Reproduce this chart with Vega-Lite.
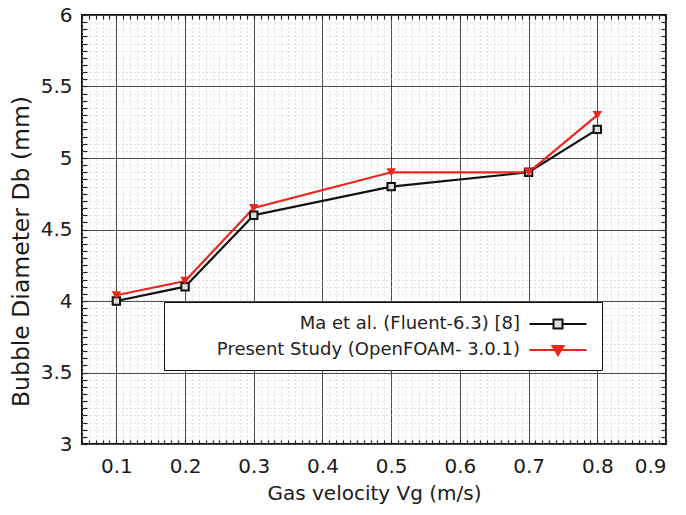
{
  "$schema": "https://vega.github.io/schema/vega-lite/v6.json",
  "width": 584,
  "height": 429,
  "autosize": "none",
  "padding": {"left": 82, "top": 15, "right": 20, "bottom": 71},
  "background": "white",
  "config": {
    "view": {"stroke": "#111111", "strokeWidth": 2},
    "font": "DejaVu Sans",
    "axis": {"labelFont": "DejaVu Sans", "titleFont": "DejaVu Sans", "labelColor": "#1a1a1a", "titleColor": "#1a1a1a", "titleFontWeight": "normal"}
  },
  "data": {
    "values": [
      {"v": 0.1, "d": 4.0, "s": "Ma et al. (Fluent-6.3) [8]"},
      {"v": 0.2, "d": 4.1, "s": "Ma et al. (Fluent-6.3) [8]"},
      {"v": 0.3, "d": 4.6, "s": "Ma et al. (Fluent-6.3) [8]"},
      {"v": 0.5, "d": 4.8, "s": "Ma et al. (Fluent-6.3) [8]"},
      {"v": 0.7, "d": 4.9, "s": "Ma et al. (Fluent-6.3) [8]"},
      {"v": 0.8, "d": 5.2, "s": "Ma et al. (Fluent-6.3) [8]"},
      {"v": 0.1, "d": 4.04, "s": "Present Study (OpenFOAM- 3.0.1)"},
      {"v": 0.2, "d": 4.14, "s": "Present Study (OpenFOAM- 3.0.1)"},
      {"v": 0.3, "d": 4.65, "s": "Present Study (OpenFOAM- 3.0.1)"},
      {"v": 0.5, "d": 4.9, "s": "Present Study (OpenFOAM- 3.0.1)"},
      {"v": 0.7, "d": 4.9, "s": "Present Study (OpenFOAM- 3.0.1)"},
      {"v": 0.8, "d": 5.3, "s": "Present Study (OpenFOAM- 3.0.1)"}
    ]
  },
  "layer": [
    {
      "mark": {"type": "line", "strokeWidth": 2.2},
      "encoding": {
        "x": {"field": "v", "type": "quantitative", "scale": {"domain": [0.05, 0.9], "nice": false, "zero": false},
          "axis": {"orient": "bottom", "tickCount": 85, "labels": false, "title": null, "domain": false, "grid": true, "gridColor": "#c4c4c4", "gridDash": [1, 3], "gridWidth": 1, "ticks": true, "tickSize": -4, "tickColor": "#222", "tickWidth": 1.2}},
        "y": {"field": "d", "type": "quantitative", "scale": {"domain": [3, 6], "nice": false, "zero": false},
          "axis": {"orient": "left", "tickCount": 60, "labels": false, "title": null, "domain": false, "grid": true, "gridColor": "#c4c4c4", "gridDash": [1, 3], "gridWidth": 1, "ticks": true, "tickSize": -5, "tickColor": "#222", "tickWidth": 1.2}},
        "color": {"field": "s", "type": "nominal", "scale": {"domain": ["Ma et al. (Fluent-6.3) [8]", "Present Study (OpenFOAM- 3.0.1)"], "range": ["#111111", "#e8281e"]},
          "legend": {"title": null, "orient": "none", "legendX": 82, "legendY": 287, "direction": "vertical",
            "symbolSize": 400, "symbolStrokeWidth": 2, "symbolOpacity": 1,
            "labelAlign": "right", "labelOffset": -49, "symbolOffset": 372,
            "labelFont": "DejaVu Sans", "labelFontSize": 18, "labelColor": "#222222", "labelLimit": 400,
            "padding": 11, "rowPadding": 6, "strokeColor": "#111111", "fillColor": "white",
            "encode": {
              "symbols": {"update": {
                "stroke": {"signal": "datum.value == 'Ma et al. (Fluent-6.3) [8]' ? '#111111' : '#e8281e'"},
                "fill": {"signal": "datum.value == 'Ma et al. (Fluent-6.3) [8]' ? '#dddddd' : '#e8281e'"},
                "opacity": {"value": 1}}}
            }}}
      }
    },
    {
      "transform": [{"filter": "datum.s == 'Ma et al. (Fluent-6.3) [8]'"}],
      "mark": {"type": "point", "shape": "square", "size": 55, "filled": false, "fill": "#dddddd", "stroke": "#111111", "strokeWidth": 2, "opacity": 1},
      "encoding": {
        "x": {"field": "v", "type": "quantitative", "scale": {"domain": [0.05, 0.9], "nice": false, "zero": false},
          "axis": {"orient": "bottom", "values": [0.1, 0.2, 0.3, 0.4, 0.5, 0.6, 0.7, 0.8, 0.9], "format": "~g", "labelFontSize": 20, "labelPadding": 12, "ticks": false, "domain": false, "grid": true, "gridColor": "#4a4a4a", "gridWidth": 1,
            "title": "Gas velocity Vg (m/s)", "titleFontSize": 20, "titlePadding": 7}},
        "y": {"field": "d", "type": "quantitative", "scale": {"domain": [3, 6], "nice": false, "zero": false},
          "axis": {"orient": "left", "values": [3, 3.5, 4, 4.5, 5, 5.5, 6], "format": "~g", "labelFontSize": 20, "labelPadding": 10, "ticks": false, "domain": false, "grid": true, "gridColor": "#4a4a4a", "gridWidth": 1,
            "title": "Bubble Diameter Db (mm)", "titleFontSize": 23.5, "titlePadding": 7, "titleY": 236}}
      }
    },
    {
      "transform": [{"filter": "datum.s == 'Present Study (OpenFOAM- 3.0.1)'"}],
      "mark": {"type": "point", "shape": "triangle-down", "size": 90, "filled": true, "color": "#e8281e", "opacity": 1},
      "encoding": {
        "x": {"field": "v", "type": "quantitative", "scale": {"domain": [0.05, 0.9], "nice": false, "zero": false},
          "axis": {"orient": "top", "tickCount": 85, "labels": false, "title": null, "domain": false, "grid": false, "ticks": true, "tickSize": -4, "tickColor": "#222", "tickWidth": 1.2}},
        "y": {"field": "d", "type": "quantitative", "scale": {"domain": [3, 6], "nice": false, "zero": false},
          "axis": {"orient": "right", "tickCount": 60, "labels": false, "title": null, "domain": false, "grid": false, "ticks": true, "tickSize": -5, "tickColor": "#222", "tickWidth": 1.2}}
      }
    },
    {
      "mark": {"type": "point", "filled": true, "opacity": 0},
      "encoding": {
        "x": {"field": "v", "type": "quantitative", "scale": {"domain": [0.05, 0.9], "nice": false, "zero": false}, "axis": null},
        "y": {"field": "d", "type": "quantitative", "scale": {"domain": [3, 6], "nice": false, "zero": false}, "axis": null},
        "shape": {"field": "s", "type": "nominal",
          "scale": {"domain": ["Ma et al. (Fluent-6.3) [8]", "Present Study (OpenFOAM- 3.0.1)"],
            "range": ["M-2.85,0H-0.45M0.45,0H2.85M-0.45,-0.45H0.45V0.45H-0.45Z", "M-2.85,0H2.85M-0.55,-0.4H0.55L0,0.5Z"]},
          "legend": {"title": null, "orient": "none", "legendX": 82, "legendY": 287, "direction": "vertical",
            "symbolSize": 400, "symbolStrokeWidth": 2, "symbolOpacity": 1,
            "labelAlign": "right", "labelOffset": -49, "symbolOffset": 372,
            "labelFont": "DejaVu Sans", "labelFontSize": 18, "labelColor": "#222222", "labelLimit": 400,
            "padding": 11, "rowPadding": 6, "strokeColor": "#111111", "fillColor": "white"}
        }
      }
    }
  ],
  "resolve": {"axis": {"x": "independent", "y": "independent"}}
}
